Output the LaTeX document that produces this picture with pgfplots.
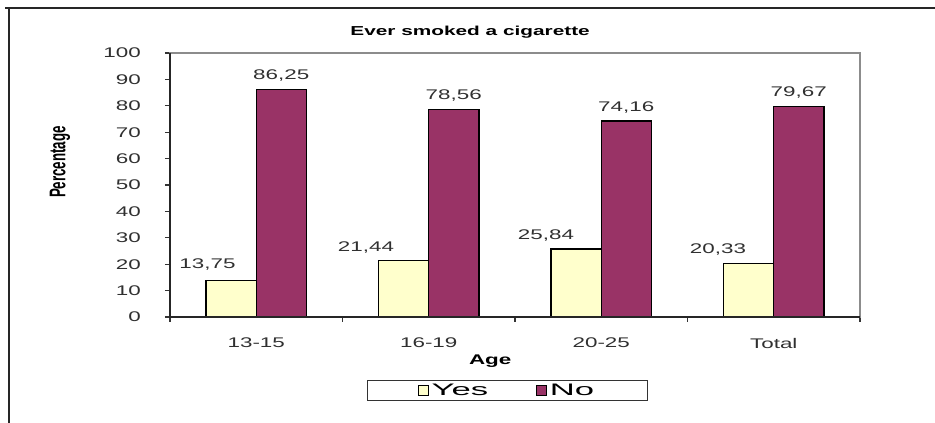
\documentclass[border=0pt]{standalone}
\usepackage{pgfplots}
\pgfplotsset{compat=1.18}
\usepackage{pgfplotstable}
\usepackage{fontspec}
\setmainfont{Liberation Sans}[FakeStretch=1.6]
\newfontfamily\plainfont{Liberation Sans}
\definecolor{yesc}{HTML}{FFFFCC}
\definecolor{noc}{HTML}{993366}
\definecolor{txt}{HTML}{303030}

\pgfplotstableread{
x y dx dy
0 13.75 -17.8 12.5
1 21.44 -28.3 10.0
2 25.84 -22.7 10.3
3 20.33 -23.1 10.0
}\yestable
\pgfplotstableread{
x y dx dy
0 86.25 0 10.5
1 78.56 0 10.5
2 74.16 0 10.5
3 79.67 0 10.5
}\notable

\begin{document}
\begin{tikzpicture}
\path[use as bounding box] (0pt,0pt) rectangle (701.25pt,-317.25pt);
\draw[line width=1.5pt, black!85] (3.75pt,-6pt) -- (701.25pt,-6pt);
\draw[line width=1.5pt, black!85] (6.5pt,-6pt) -- (6.5pt,-317.25pt);
\begin{axis}[
  at={(127.5pt,-237.75pt)}, anchor=south west,
  scale only axis, width=517.5pt, height=198pt,
  clip=false,
  xmin=-0.5, xmax=3.5, ymin=0, ymax=100,
  ybar=0pt, bar width=0.29,
  xtick={0,1,2,3}, xticklabels={13-15,16-19,20-25,Total},
  major x tick style={draw=none},
  minor xtick={-0.5,0.5,1.5,2.5,3.5},
  ytick={0,10,...,100},
  xtick pos=bottom, ytick pos=left,
  tick align=outside, major tick length=3.75pt, minor tick length=3.75pt,
  axis line style={draw=black!45, line width=0.8pt},
  tick style={black!80, line width=0.8pt},
  /pgf/number format/assume math mode=true,
  ticklabel style={font=\fontsize{10.5}{12}\selectfont, text=txt},
  yticklabel style={inner xsep=0pt, xshift=-18pt},
  xticklabel style={yshift=-8.5pt},
  every axis title shift=0pt,
  title={Ever smoked a cigarette},
  title style={at={(axis description cs:0.435,1.08)}, anchor=center, font=\bfseries\fontsize{9.75}{11}\selectfont},
  xlabel={Age},
  xlabel style={at={(axis description cs:0.464,-0.168)}, anchor=center, font=\bfseries\fontsize{10.5}{12}\selectfont},
  nodes near coords={\pgfmathprintnumber[fixed, precision=2, fixed zerofill, use comma]{\pgfplotspointmeta}},
  point meta=y,
  legend columns=2,
  legend style={at={(0.489,-0.278)}, anchor=center, draw=black!80, line width=0.8pt,
    font=\fontsize{12.5}{14}\selectfont, inner xsep=38pt, inner ysep=0.5pt,
    /tikz/every even column/.append style={column sep=34pt}},
]
\addplot[fill=yesc, draw=black, line width=1.1pt,
  visualization depends on={\thisrow{dx} \as \dx},
  visualization depends on={\thisrow{dy} \as \dy},
  nodes near coords style={anchor=center, xshift=\dx pt, yshift=\dy pt, font=\fontsize{10.5}{12}\selectfont, text=txt},
  legend image code/.code={\draw[fill=yesc, draw=black, line width=0.8pt] (0pt,-3.6pt) rectangle (7.5pt,3.6pt);}
] table[x=x,y=y] {\yestable};
\addlegendentry{\scalebox{1.3}[1]{Yes}}
\addplot[fill=noc, draw=black, line width=1.1pt,
  visualization depends on={\thisrow{dx} \as \dx},
  visualization depends on={\thisrow{dy} \as \dy},
  nodes near coords style={anchor=center, xshift=\dx pt, yshift=\dy pt, font=\fontsize{10.5}{12}\selectfont, text=txt},
  legend image code/.code={\draw[fill=noc, draw=black, line width=0.8pt] (0pt,-3.6pt) rectangle (7.5pt,3.6pt);}
] table[x=x,y=y] {\notable};
\addlegendentry{\scalebox{1.3}[1]{No}}
\draw[black!85, line width=0.9pt] (rel axis cs:0,1) -- (rel axis cs:0,0) -- (rel axis cs:1,0);
\node at (rel axis cs:-0.1594,0.587) {\scalebox{1.7}[1]{\rotatebox{90}{\plainfont\bfseries\fontsize{10}{11}\selectfont Percentage}}};
\end{axis}
\end{tikzpicture}
\end{document}
